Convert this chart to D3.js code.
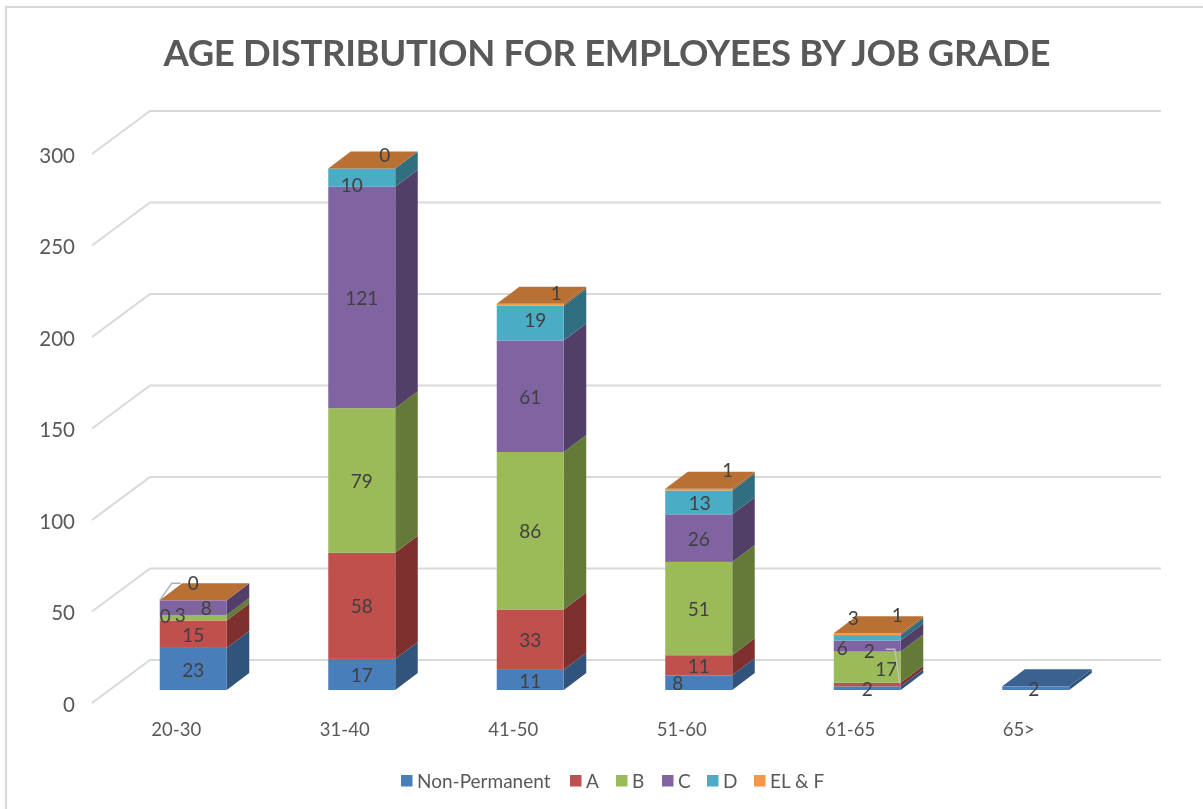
<!DOCTYPE html>
<html><head><meta charset="utf-8">
<style>html,body{margin:0;padding:0;background:#fff}svg{display:block;filter:blur(0.4px)}text{font-family:Lato,"Open Sans",sans-serif}</style>
<script src="https://cdn.jsdelivr.net/npm/d3@7/dist/d3.min.js"></script>
</head><body><svg id="c" width="1203" height="809"></svg>
<script>
const categories = ["20-30","31-40","41-50","51-60","61-65","65>"];
const seriesNames = ["Non-Permanent","A","B","C","D","EL & F"];
const nonPermanent = [23,17,11,8,2,2];
const gradeA = [15,58,33,11,2,null];
const gradeB = [3,79,86,51,17,null];
const gradeC = [8,121,61,26,6,null];
const gradeD = [0,10,19,13,3,null];
const gradeELF = [0,0,1,1,1,null];
const yTicks = [0,50,100,150,200,250,300];
const titleText = "AGE DISTRIBUTION FOR EMPLOYEES BY JOB GRADE";

const seriesValues = [nonPermanent,gradeA,gradeB,gradeC,gradeD,gradeELF];
const frontColors = ["#4a7ebb","#c0504d","#9bbb59","#8064a2","#4bacc6","#f79646"];
const sideColors  = ["#30547c","#7d302e","#647a39","#523f68","#2f6f80","#a06030"];
const topColors   = ["#3a618f","#94403c","#7c9545","#65508a","#3c8a9e","#b97034"];

const W = 1203, H = 809;
const svg = d3.select("#c");
const ink = "#595959";

// frame
svg.append("path").attr("d",`M${W},7H6V${H}`).attr("fill","none").attr("stroke","#d9d9d9").attr("stroke-width",2.2);

// title
svg.append("text").attr("x",607).attr("y",66).attr("text-anchor","middle")
  .attr("font-size",36.5).attr("font-weight",700).attr("fill",ink).attr("textLength",887).text(titleText);

// 3-D geometry: the floor runs from the front edge to the back wall
const floorDX = 58, floorFrontDY = 13, floorBackDY = 30;
const barDX = 22.5, barDY = 17;
const floorGapDX = 17;
const x = d3.scaleBand().domain(categories).range([92,1103]);
const y = d3.scaleLinear().domain([0,300]).range([690,141]);
const barW = 67;

// walls gridlines
svg.append("g").selectAll("path").data(yTicks).join("path")
  .attr("d",v=>`M92,${y(v)+floorFrontDY}L${92+floorDX},${y(v)-floorBackDY}H1161`)
  .attr("fill","none").attr("stroke","#d9d9d9").attr("stroke-width",2);

// axes
const axL = svg.append("g").attr("transform",`translate(82,${floorFrontDY+1.5})`)
  .call(d3.axisLeft(y).tickValues(yTicks).tickSize(0).tickPadding(7));
axL.select(".domain").remove();
axL.selectAll("text").attr("font-size",20.5).attr("fill",ink).attr("style","font-family:Lato");
const axB = svg.append("g").attr("transform","translate(0,730)")
  .call(d3.axisBottom(x).tickSize(0).tickPadding(0));
axB.select(".domain").remove();
axB.selectAll("text").attr("font-size",18.5).attr("fill",ink).attr("dy","0.32em").attr("style","font-family:Lato");

// stacked columns
const rows = categories.map((c,i)=>{
  const r = {cat:c}; seriesNames.forEach((s,j)=>r[s]=seriesValues[j][i]||0); return r;
});
const stacked = d3.stack().keys(seriesNames)(rows);
const left = c => x(c)+x.bandwidth()/2+floorGapDX-barW/2;
const bars = svg.append("g");
categories.forEach((c,i)=>{
  const g = bars.append("g");
  const x0 = left(c), x1 = x0+barW;
  let topSeries = 0, topY = y(0);
  seriesNames.forEach((s,j)=>{
    if(seriesValues[j][i]===null) return;
    const [a,b] = stacked[j][i];
    const ya = y(a), yb = y(b);
    topSeries = j; topY = yb;
    if(b>a){
      g.append("polygon").attr("points",[[x1,ya],[x1+barDX,ya-barDY],[x1+barDX,yb-barDY],[x1,yb]].join(" ")).attr("fill",sideColors[j]);
      g.append("rect").attr("x",x0).attr("y",yb).attr("width",barW).attr("height",ya-yb).attr("fill",frontColors[j]);
    }
  });
  g.append("polygon").attr("points",[[x0,topY],[x1,topY],[x1+barDX,topY-barDY],[x0+barDX,topY-barDY]].join(" ")).attr("fill",topColors[topSeries]);
});

// hand-moved data labels, as placed in the original: offsets from each segment's centre
const labelNudge = [
  [[0,0],[0,0],[-13,-3],[13,0],[-28,15],[0,-18]],
  [[0,0],[0,0],[0,0],[0,0],[-10,7],[23,-14]],
  [[0,0],[0,0],[0,0],[0,0],[5,-4],[26,-12]],
  [[-21,0],[0,0],[0,0],[0,0],[1,0],[29,-20]],
  [[0,0],[2,-34],[19,1],[-25,1],[-14,-20],[30,-20]],
  [[-2,0]]
];
const labels = svg.append("g");
categories.forEach((c,i)=>{
  seriesNames.forEach((s,j)=>{
    const v = seriesValues[j][i];
    if(v===null) return;
    const [a,b] = stacked[j][i];
    const n = labelNudge[i][j];
    labels.append("text").attr("x",left(c)+barW/2+n[0]).attr("y",y((a+b)/2)+n[1]+1)
      .attr("text-anchor","middle").attr("dy","0.35em").attr("font-size",19).attr("fill","#404040").text(v);
  });
});

// leader lines on moved labels, anchored to the bar they belong to
const leader = d3.line();
const l0 = left("20-30"), l4 = left("61-65");
const t0 = y(49), t4 = y(31);
labels.append("path").attr("d",leader([[l0+21,t0-17],[l0+12,t0-17],[l0,t0]]))
  .attr("fill","none").attr("stroke","#b3b3b3").attr("stroke-width",1.5);
labels.append("path").attr("d",leader([[l4+52,t4+16],[l4+61,t4+16],[l4+66,t4+50]]))
  .attr("fill","none").attr("stroke","#bfbfbf").attr("stroke-width",1.5);

// legend
const legendX = [401,570,616,662,707,754];
const lg = svg.append("g").selectAll("g").data(seriesNames).join("g")
  .attr("transform",(d,i)=>`translate(${legendX[i]},775)`);
lg.append("rect").attr("width",11.5).attr("height",11.5).attr("fill",(d,i)=>frontColors[i]);
lg.append("text").attr("x",16).attr("y",6).attr("dy","0.35em").attr("font-size",19).attr("fill",ink).text(d=>d);
</script></body></html>
